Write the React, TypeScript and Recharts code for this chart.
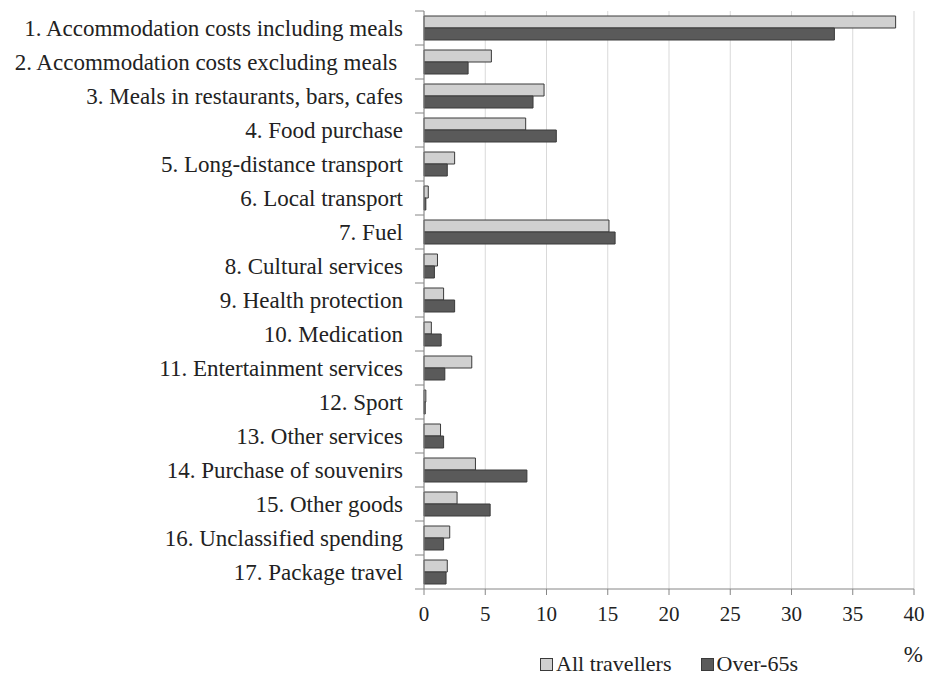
import React from 'react';
import { BarChart, Bar, XAxis, YAxis, CartesianGrid, Legend, Label } from 'recharts';

const categories = [
  '1. Accommodation costs including meals',
  '2. Accommodation costs excluding meals ',
  '3. Meals in restaurants, bars, cafes',
  '4. Food purchase',
  '5. Long-distance transport',
  '6. Local transport',
  '7. Fuel',
  '8. Cultural services',
  '9. Health protection',
  '10. Medication',
  '11. Entertainment services',
  '12. Sport',
  '13. Other services',
  '14. Purchase of souvenirs',
  '15. Other goods',
  '16. Unclassified spending',
  '17. Package travel',
];

const allTravellers = [38.5, 5.5, 9.8, 8.3, 2.5, 0.35, 15.1, 1.1, 1.6, 0.6, 3.9, 0.15, 1.35, 4.2, 2.7, 2.1, 1.9];
const over65s = [33.5, 3.6, 8.9, 10.8, 1.9, 0.15, 15.6, 0.85, 2.5, 1.4, 1.7, 0.1, 1.6, 8.4, 5.4, 1.6, 1.8];

const xTicks = [0, 5, 10, 15, 20, 25, 30, 35, 40];

const seriesNames = ['All travellers', 'Over-65s'];

const data = categories.map((name, i) => ({
  name,
  all: allTravellers[i],
  over: over65s[i],
}));

const FONT = "'Liberation Serif', 'Times New Roman', serif";
const LIGHT = '#d0d0d0';
const DARK = '#5a5a5a';
const EDGE = '#3a3a3a';
const AXIS = '#868686';

const W = 928;
const H = 676;
const PLOT_TOP = 11;
const PLOT_BOTTOM = 589;
const BAND = (PLOT_BOTTOM - PLOT_TOP) / categories.length;

const CategoryTick = (props: any) => {
  const { x, y, payload, index } = props;
  const right = x + 21;
  return (
    <g>
      <line x1={right - 9} x2={right} y1={y - BAND / 2} y2={y - BAND / 2} stroke={AXIS} />
      {index === categories.length - 1 && (
        <line x1={right - 9} x2={right} y1={y + BAND / 2} y2={y + BAND / 2} stroke={AXIS} />
      )}
      <text
        x={x}
        y={y}
        dy="0.35em"
        textAnchor="end"
        fill="#222"
        style={{ whiteSpace: 'pre', fontFamily: FONT, fontSize: 23 }}
        xmlSpace="preserve"
      >
        {payload.value}
      </text>
    </g>
  );
};

const LegendContent = () => (
  <div
    style={{
      marginLeft: 424,
      width: 490,
      height: 20,
      lineHeight: '20px',
      display: 'flex',
      justifyContent: 'center',
      alignItems: 'center',
      fontFamily: FONT,
      fontSize: 22,
      color: '#222',
    }}
  >
    {seriesNames.map((s, i) => (
      <div key={s} style={{ display: 'flex', alignItems: 'center', marginLeft: i ? 29 : 0 }}>
        <span
          style={{
            width: 11,
            height: 11,
            background: i ? DARK : LIGHT,
            border: `1px solid ${EDGE}`,
            marginRight: 3,
            display: 'inline-block',
          }}
        />
        <span>{s}</span>
      </div>
    ))}
  </div>
);

export default function App() {
  return (
    <div style={{ position: 'absolute', left: 0, top: 0, width: W, height: H, background: '#fff' }}>
      <BarChart
        width={W}
        height={H}
        data={data}
        layout="vertical"
        margin={{ top: PLOT_TOP, right: 14, bottom: 0, left: 0 }}
        barSize={12}
        barGap={0}
      >
        <CartesianGrid horizontal={false} stroke="#d9d9d9" />
        <XAxis
          type="number"
          domain={[0, 40]}
          ticks={xTicks}
          interval={0}
          height={67}
          axisLine={{ stroke: AXIS }}
          tickLine={{ stroke: AXIS }}
          tickSize={6}
          tickMargin={11}
          tick={{ fill: '#222', style: { fontFamily: FONT, fontSize: 21 } }}
        >
          <Label
            value="%"
            position="insideBottomRight"
            offset={0}
            dx={9}
            dy={6}
            fill="#222"
            style={{ fontFamily: FONT, fontSize: 23 }}
          />
        </XAxis>
        <XAxis
          xAxisId="top"
          orientation="top"
          type="number"
          domain={[0, 40]}
          height={0}
          tick={false}
          tickLine={false}
          axisLine={{ stroke: AXIS }}
        />
        <YAxis
          type="category"
          dataKey="name"
          width={424}
          interval={0}
          tickSize={9}
          tickMargin={12}
          tickLine={false}
          axisLine={{ stroke: AXIS }}
          tick={<CategoryTick />}
        />
        <YAxis
          yAxisId="right"
          orientation="right"
          type="category"
          dataKey="name"
          width={0}
          tick={false}
          tickLine={false}
          axisLine={{ stroke: AXIS }}
        />
        <Legend verticalAlign="bottom" wrapperStyle={{ height: 20, bottom: 2 }} content={<LegendContent />} />
        <Bar dataKey="all" name={seriesNames[0]} fill={LIGHT} stroke={EDGE} strokeWidth={1} isAnimationActive={false} />
        <Bar dataKey="over" name={seriesNames[1]} fill={DARK} stroke={EDGE} strokeWidth={1} isAnimationActive={false} />
      </BarChart>
    </div>
  );
}
